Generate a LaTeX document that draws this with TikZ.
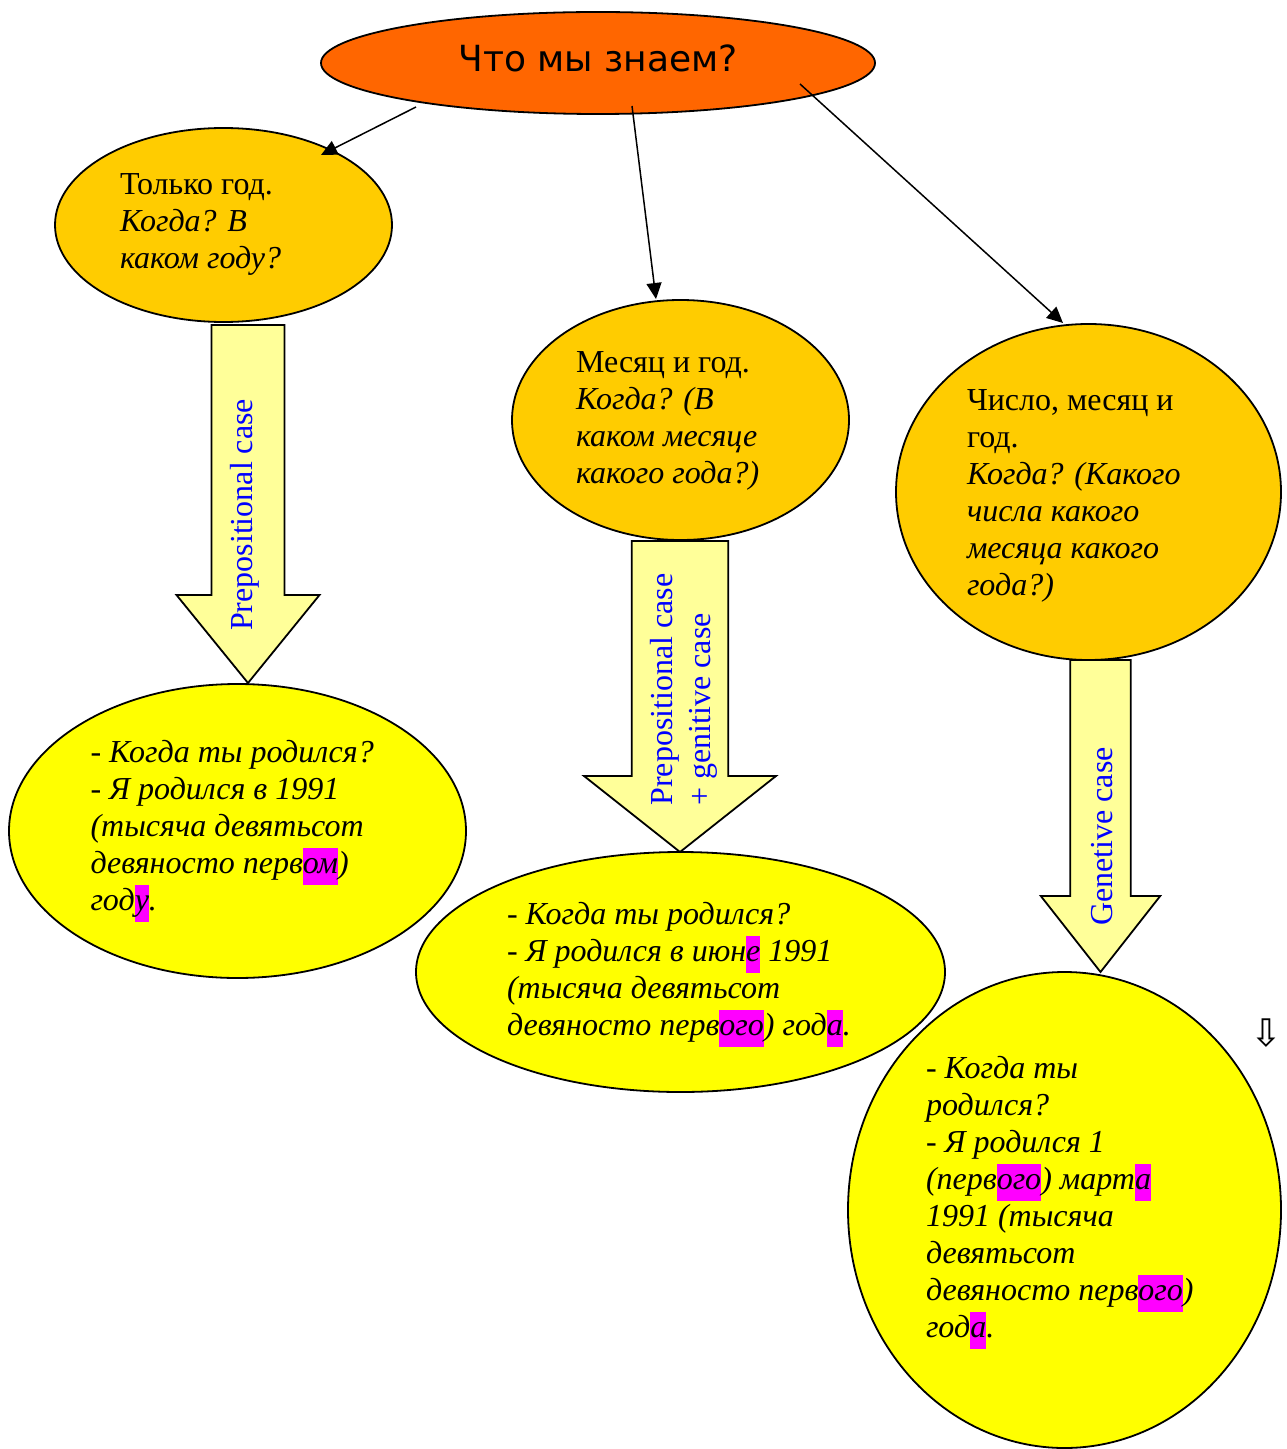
\documentclass[tikz,border=0pt]{standalone}
\usepackage{fontspec}
\setmainfont{Liberation Serif}
\newfontfamily\titlefont{DejaVu Sans}
\usetikzlibrary{arrows.meta,shapes.geometric,calc}
\definecolor{topor}{HTML}{FF6600}
\definecolor{midor}{HTML}{FFCC00}
\definecolor{boty}{HTML}{FFFF00}
\definecolor{arrfill}{HTML}{FFFF99}
\definecolor{hlmag}{HTML}{FF00FF}
\definecolor{lblblue}{HTML}{0000FF}
\newcommand\hlm[1]{{\setlength{\fboxsep}{0pt}\colorbox{hlmag}{\strut#1}}}
\begin{document}
\begin{tikzpicture}[x=0.5pt,y=-0.5pt,
  ell/.style={ellipse,draw=black,line width=0.9pt,inner sep=0pt,outer sep=0pt},
  txt/.style={inner sep=0pt,outer sep=0pt,align=left,anchor=west,font=\fontsize{16}{18.5}\selectfont},
  itxt/.style={txt,font=\fontsize{16}{18.5}\selectfont\itshape},
  lbl/.style={inner sep=0pt,outer sep=0pt,rotate=90,text=lblblue,align=left,font=\fontsize{16}{19}\selectfont},
  conn/.style={line width=0.75pt,-{Triangle[length=8pt,width=7.5pt]}},
  barrow/.style={draw=black,line width=0.9pt,fill=arrfill,line join=miter}]
\useasboundingbox (0,0) rectangle (1286,1449);
\fill[white] (0,0) rectangle (1286,1449);

% top ellipse
\node[ell,fill=topor,minimum width=277pt,minimum height=51pt] (top) at (598,63) {};
\node[font=\titlefont\fontsize{18}{21}\selectfont,anchor=base,inner sep=0pt] (title) at (598,72) {Что мы знаем?};

% middle ellipses
\node[ell,fill=midor,minimum width=168.5pt,minimum height=97pt] (e1) at (223.5,225) {};
\node[ell,fill=midor,minimum width=168.5pt,minimum height=120pt] (e2) at (680.5,420) {};
\node[ell,fill=midor,minimum width=192.5pt,minimum height=168pt] (e3) at (1088.5,492) {};

\node[txt] (t1) at (120,224) {\strut Только год.\\ \textit{Когда? В}\\ \textit{каком году?}\strut};
\node[txt] (t2) at (576,420.5) {\strut Месяц и год.\\ \textit{Когда? (В}\\ \textit{каком месяце}\\ \textit{какого года?)}\strut};
\node[txt] (t3) at (967,496) {\strut Число, месяц и\\ год.\\ \textit{Когда? (Какого}\\ \textit{числа какого}\\ \textit{месяца какого}\\ \textit{года?)}\strut};

% connectors
\coordinate (c1s) at (416,107); \coordinate (c1e) at (321,155);
\coordinate (c2s) at (632,106); \coordinate (c2e) at (656,299);
\coordinate (c3s) at (800,84);  \coordinate (c3e) at (1063,323);
\draw[conn] (c1s) -- (c1e);
\draw[conn] (c2s) -- (c2e);
\draw[conn] (c3s) -- (c3e);

% bottom ellipses
\node[ell,fill=boty,minimum width=228.5pt,minimum height=147pt] (e4) at (237.5,831) {};
\node[ell,fill=boty,minimum width=264.5pt,minimum height=120pt] (e5) at (680.5,972) {};
\node[ell,fill=boty,minimum width=216.5pt,minimum height=238pt] (e6) at (1064.5,1210) {};

% block arrows
\coordinate (a1top) at (248,325);   \coordinate (a1tip) at (248,683);
\coordinate (a2top) at (680,541);   \coordinate (a2tip) at (680,852);
\coordinate (a3top) at (1100.5,660); \coordinate (a3tip) at (1100.5,972);
\draw[barrow] ($(a1top)+(-36.5,0)$) -- ($(a1top)+(36.5,0)$) -- ($(a1tip)+(36.5,-88)$) -- ($(a1tip)+(71.5,-88)$) -- (a1tip) -- ($(a1tip)+(-71.5,-88)$) -- ($(a1tip)+(-36.5,-88)$) -- cycle;
\draw[barrow] ($(a2top)+(-48.3,0)$) -- ($(a2top)+(48.3,0)$) -- ($(a2tip)+(48.3,-76)$) -- ($(a2tip)+(96,-76)$) -- (a2tip) -- ($(a2tip)+(-96,-76)$) -- ($(a2tip)+(-48.3,-76)$) -- cycle;
\draw[barrow] ($(a3top)+(-30.3,0)$) -- ($(a3top)+(30.3,0)$) -- ($(a3tip)+(30.3,-76)$) -- ($(a3tip)+(59.7,-76)$) -- (a3tip) -- ($(a3tip)+(-59.7,-76)$) -- ($(a3tip)+(-30.3,-76)$) -- cycle;

\node[lbl] (l1) at (244.5,515) {Prepositional case};
\node[lbl] (l2) at (683.5,689.5) {Prepositional case\\+ genitive case};
\node[lbl] (l3) at (1102,836.5) {Genetive case};

% bottom texts
\node[itxt] (t4) at (90.5,829) {\strut - Когда ты родился?\\ - Я родился в 1991\\ (тысяча девятьсот\\ девяносто перв\hlm{ом})\\ год\hlm{у}.\strut};
\node[itxt] (t5) at (507,972.5) {\strut - Когда ты родился?\\ - Я родился в июн\hlm{е} 1991\\ (тысяча девятьсот\\ девяносто перв\hlm{ого}) год\hlm{а}.\strut};
\node[itxt] (t6) at (926,1201) {\strut - Когда ты\\ родился?\\ - Я родился 1\\ (перв\hlm{ого}) март\hlm{а}\\ 1991 (тысяча\\ девятьсот\\ девяносто перв\hlm{ого})\\ год\hlm{а}.\strut};

% small symbol
\node[font=\titlefont\fontsize{19}{22}\selectfont,inner sep=0pt] (sym) at (1266,1033) {⇩};
\end{tikzpicture}
\end{document}
